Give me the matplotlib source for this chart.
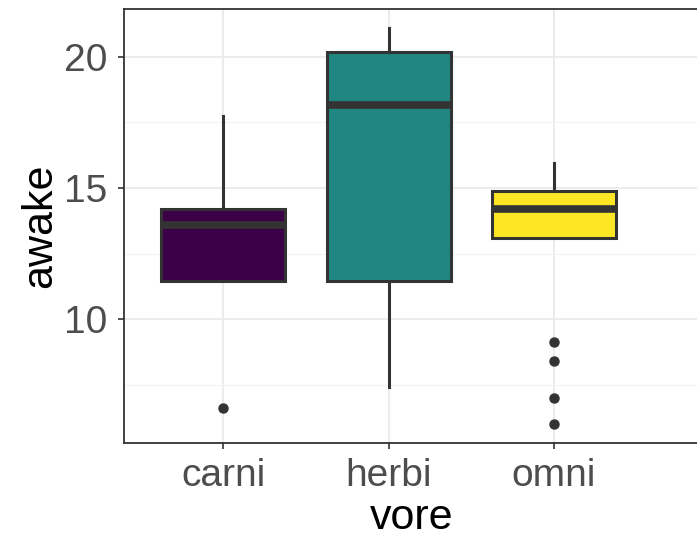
import numpy as np
import matplotlib
matplotlib.use("Agg")
from matplotlib import pyplot as plt

# box statistics
vores = ["carni", "herbi", "omni"]
q1 = [11.45, 11.47, 13.08]
med = [13.6, 18.18, 14.2]
q3 = [14.2, 20.17, 14.9]
whis_lo = [11.45, 7.43, 13.08]
whis_hi = [17.75, 21.08, 15.95]
outliers = [[6.61], [], [9.12, 8.41, 7.02, 6.02]]
fills = ["#3C0049", "#1F8780", "#FDE725"]

plt.rcParams['font.family'] = ['Liberation Sans', 'DejaVu Sans']

fig = plt.figure(figsize=(6.97, 5.35), dpi=100)
ax = fig.add_axes([124 / 697, 92 / 535, 1 - 124 / 697 + 0.002, (443 - 9) / 535])

stats = []
for i, name in enumerate(vores):
    stats.append(dict(label=name, med=med[i], q1=q1[i], q3=q3[i],
                      whislo=whis_lo[i], whishi=whis_hi[i], fliers=outliers[i]))

bp = ax.bxp(stats, positions=[1, 2, 3], widths=0.75, patch_artist=True,
            showcaps=False, zorder=3,
            boxprops=dict(edgecolor="#333333", linewidth=2.2),
            medianprops=dict(color="#333333", linewidth=5.5, solid_capstyle="butt"),
            whiskerprops=dict(color="#333333", linewidth=2.2),
            flierprops=dict(marker="o", markerfacecolor="#333333",
                            markeredgecolor="#333333", markersize=6.5))
for patch, c in zip(bp["boxes"], fills):
    patch.set_facecolor(c)

ax.set_xlim(0.4, 0.4 + (697 - 124) / 165)
ax.set_ylim(5.29, 21.82)
ax.set_yticks([10, 15, 20])
ax.set_yticks([7.5, 12.5, 17.5], minor=True)
ax.set_xticks([1, 2, 3])
ax.set_xticklabels(vores)

ax.grid(True, which="major", color="#EBEBEB", linewidth=1.3, zorder=0)
ax.grid(True, which="minor", axis="y", color="#F3F3F3", linewidth=0.8, zorder=0)
ax.set_axisbelow(True)

for side in ["left", "top", "bottom"]:
    ax.spines[side].set_color("#333333")
    ax.spines[side].set_linewidth(1.3)
ax.spines["right"].set_visible(False)

ax.tick_params(axis="both", which="major", labelsize=28, labelcolor="#4D4D4D",
               color="#333333", length=4.5, width=1.2)
ax.tick_params(axis="y", which="minor", length=0)
ax.tick_params(axis="y", pad=7.5)
ax.tick_params(axis="x", pad=6.5)

ax.set_xlabel("vore", fontsize=31, color="black", labelpad=3)
ax.set_ylabel("awake", fontsize=31, color="black", labelpad=3)

fig.savefig("out.png", dpi=100)
